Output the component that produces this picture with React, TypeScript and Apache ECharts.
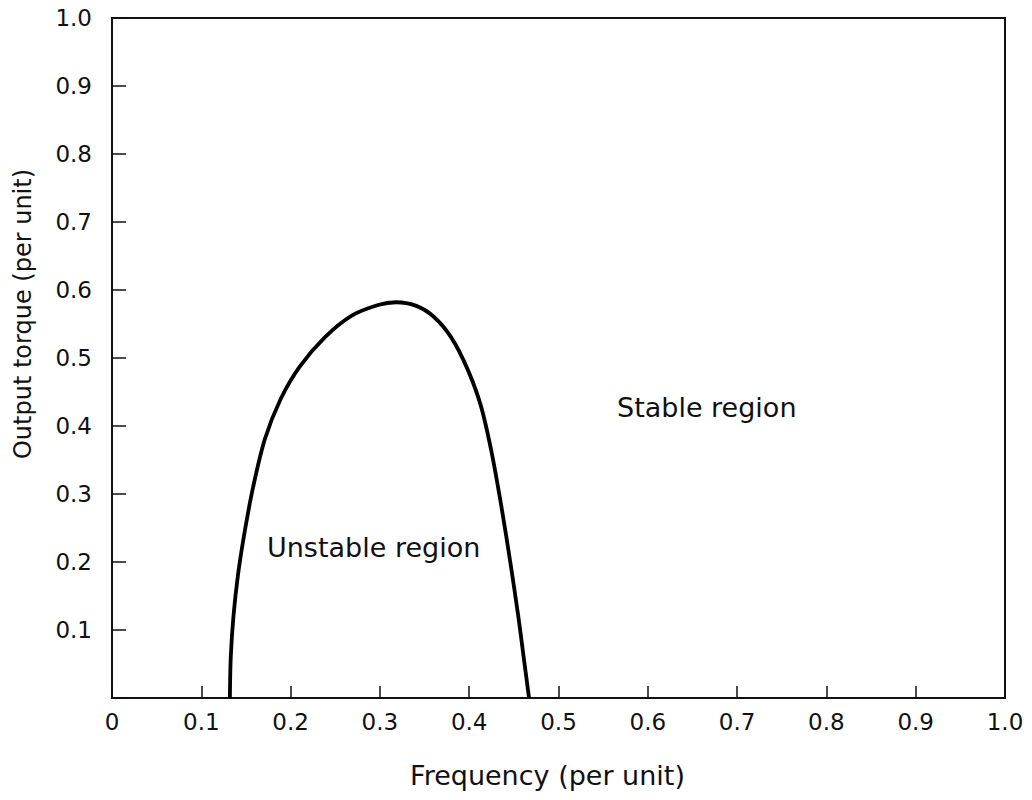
import React, { useEffect, useRef } from "react";
import * as echarts from "echarts";

// Stability boundary of the drive: output torque vs. supply frequency (per unit)
const frequency = [
  0.132, 0.133, 0.136, 0.141, 0.148, 0.158, 0.171, 0.189, 0.210, 0.238,
  0.268, 0.298, 0.318, 0.340, 0.360, 0.380, 0.398, 0.413, 0.425, 0.436,
  0.446, 0.455, 0.461, 0.467,
];
const torque = [
  0.0, 0.06, 0.12, 0.18, 0.24, 0.31, 0.38, 0.44, 0.487, 0.530,
  0.562, 0.578, 0.582, 0.577, 0.561, 0.530, 0.484, 0.430, 0.362, 0.282,
  0.200, 0.120, 0.060, 0.0,
];

const xTickLabels = ["0", "0.1", "0.2", "0.3", "0.4", "0.5", "0.6", "0.7", "0.8", "0.9", "1.0"];
const yTickLabels = ["", "0.1", "0.2", "0.3", "0.4", "0.5", "0.6", "0.7", "0.8", "0.9", "1.0"];

const xAxisName = "Frequency (per unit)";
const yAxisName = "Output torque (per unit)";
const regionLabels = ["Unstable region", "Stable region"];

const FONT = "'DejaVu Sans', 'Liberation Sans', sans-serif";
const INK = "#111";

export default function App() {
  const ref = useRef<HTMLDivElement>(null);

  useEffect(() => {
    if (!ref.current) return;
    const chart = echarts.init(ref.current, null, { renderer: "svg" });

    const tickText = { color: INK, fontFamily: FONT, fontSize: 23 };

    chart.setOption({
      animation: false,
      backgroundColor: "#fff",
      grid: {
        left: 112,
        right: 27,
        top: 18,
        bottom: 102,
        show: true,
        borderColor: INK,
        borderWidth: 2,
      },
      xAxis: {
        type: "value",
        min: 0,
        max: 1,
        interval: 0.1,
        axisLine: { show: true, onZero: false, lineStyle: { color: INK, width: 2 } },
        axisTick: { show: true, inside: true, length: 12, lineStyle: { color: INK, width: 1.5 } },
        splitLine: { show: false },
        axisLabel: {
          ...tickText,
          margin: 12,
          formatter: (v: number) => xTickLabels[Math.round(v * 10)] ?? "",
        },
        name: xAxisName,
        nameLocation: "middle",
        nameGap: 64,
        nameTextStyle: { color: INK, fontFamily: FONT, fontSize: 27, padding: [0, 22, 0, 0] },
      },
      yAxis: {
        type: "value",
        min: 0,
        max: 1,
        interval: 0.1,
        axisLine: { show: true, onZero: false, lineStyle: { color: INK, width: 2 } },
        axisTick: { show: true, inside: true, length: 14, lineStyle: { color: INK, width: 1.5 } },
        splitLine: { show: false },
        axisLabel: {
          ...tickText,
          margin: 20,
          formatter: (v: number) => yTickLabels[Math.round(v * 10)] ?? "",
        },
      },
      series: [
        {
          type: "line",
          data: frequency.map((f, i) => [f, torque[i]]),
          showSymbol: false,
          smooth: 0.3,
          lineStyle: { color: "#000", width: 3.8 },
          z: 3,
        },
      ],
      graphic: [
        {
          type: "text",
          x: 23,
          y: 314,
          rotation: Math.PI / 2,
          style: {
            text: yAxisName,
            fill: INK,
            font: `24px ${FONT}`,
            align: "center",
            verticalAlign: "middle",
          },
        },
        {
          type: "text",
          left: 267,
          top: 534,
          style: { text: regionLabels[0], fill: INK, font: `27px ${FONT}` },
        },
        {
          type: "text",
          left: 617,
          top: 394,
          style: { text: regionLabels[1], fill: INK, font: `27px ${FONT}` },
        },
      ],
    });

    return () => chart.dispose();
  }, []);

  return (
    <div
      ref={ref}
      style={{ position: "fixed", left: 0, top: 0, width: 1032, height: 800, background: "#fff" }}
    />
  );
}
